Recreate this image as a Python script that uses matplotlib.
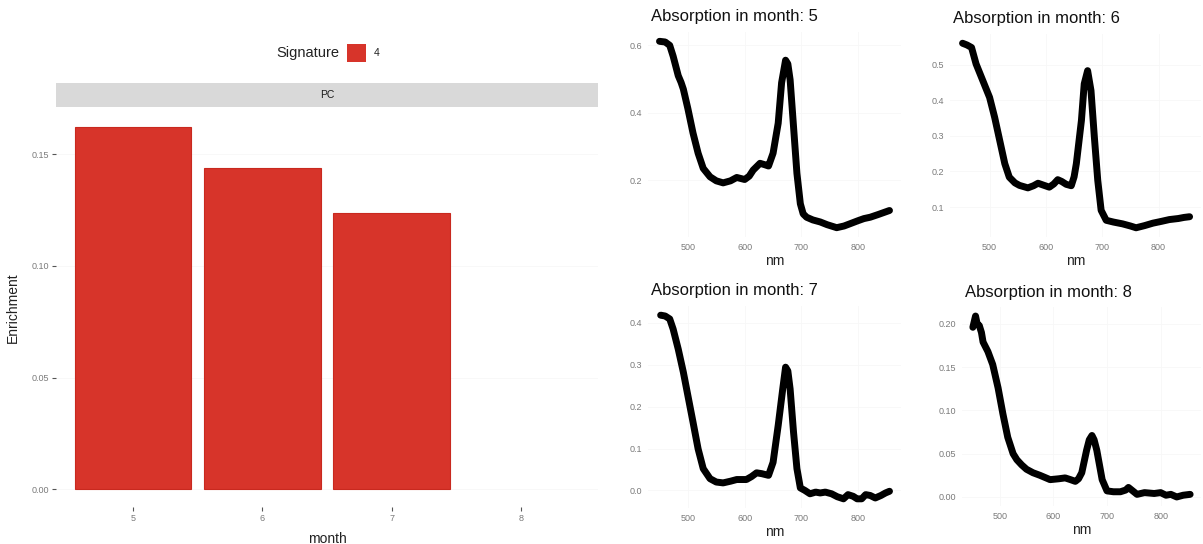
import matplotlib
matplotlib.use("Agg")
import matplotlib.pyplot as plt
from matplotlib.patches import Rectangle
import numpy as np

plt.rcParams['font.family'] = ['Liberation Sans', 'DejaVu Sans']

# ---- enrichment per month (signature 4, facet PC) ----
months = [5, 6, 7, 8]
enrichment = [0.1624, 0.1440, 0.1239, 0.0]
signature_label = "4"
facet_label = "PC"

# ---- absorption spectra per month ----
wl_m5 = [450, 460, 468, 474, 483, 488, 492, 500, 509, 518, 527, 539, 550, 562, 575,
         586, 600, 608, 615, 627, 635, 642, 650, 659, 665, 672, 676, 680, 686, 692,
         698, 703, 709, 720, 733, 745, 762, 775, 786, 800, 810, 821, 835, 845, 855]
abs_m5 = [0.612, 0.610, 0.600, 0.568, 0.510, 0.490, 0.470, 0.412, 0.340, 0.280, 0.235,
          0.210, 0.198, 0.192, 0.198, 0.208, 0.202, 0.212, 0.230, 0.250, 0.246, 0.242,
          0.280, 0.369, 0.489, 0.556, 0.545, 0.498, 0.359, 0.220, 0.130, 0.100, 0.090,
          0.082, 0.076, 0.068, 0.059, 0.064, 0.071, 0.080, 0.086, 0.090, 0.098, 0.104,
          0.110]

wl_m6 = [452, 460, 468, 476, 488, 500, 509, 518, 527, 535, 545, 553, 568, 578, 586,
         595, 606, 614, 621, 628, 636, 645, 650, 654, 663, 668, 674, 680, 686, 692,
         698, 707, 720, 736, 750, 760, 775, 790, 805, 819, 835, 845, 855]
abs_m6 = [0.560, 0.555, 0.548, 0.502, 0.455, 0.408, 0.352, 0.287, 0.222, 0.184, 0.168,
          0.161, 0.154, 0.160, 0.167, 0.162, 0.156, 0.165, 0.177, 0.172, 0.164, 0.160,
          0.185, 0.222, 0.343, 0.446, 0.483, 0.427, 0.296, 0.175, 0.091, 0.063, 0.058,
          0.053, 0.047, 0.042, 0.048, 0.055, 0.060, 0.065, 0.068, 0.071, 0.073]

wl_m7 = [452, 460, 468, 474, 483, 492, 500, 509, 518, 527, 539, 550, 562, 575, 586,
         603, 612, 621, 630, 642, 650, 659, 667, 672, 676, 680, 686, 692, 698, 706,
         715, 725, 733, 742, 753, 763, 774, 782, 791, 798, 806, 813, 821, 830, 840,
         848, 855]
abs_m7 = [0.418, 0.416, 0.409, 0.385, 0.337, 0.282, 0.226, 0.163, 0.099, 0.052, 0.028,
          0.020, 0.018, 0.022, 0.026, 0.026, 0.033, 0.042, 0.040, 0.036, 0.067, 0.155,
          0.242, 0.294, 0.285, 0.242, 0.139, 0.052, 0.006, 0.000, -0.008, -0.004,
          -0.006, -0.004, -0.008, -0.015, -0.020, -0.010, -0.014, -0.020, -0.020,
          -0.010, -0.012, -0.018, -0.012, -0.006, -0.002]

wl_m8 = [450, 455, 458, 462, 466, 469, 478, 487, 497, 506, 515, 525, 532, 541, 550,
         562, 575, 594, 610, 622, 632, 641, 647, 653, 662, 667, 672, 676, 681, 691,
         700, 712, 725, 735, 740, 744, 756, 770, 788, 800, 810, 819, 830, 842, 855]
abs_m8 = [0.196, 0.209, 0.200, 0.198, 0.190, 0.179, 0.168, 0.153, 0.126, 0.096, 0.069,
          0.050, 0.043, 0.037, 0.032, 0.028, 0.025, 0.020, 0.021, 0.022, 0.020, 0.018,
          0.021, 0.028, 0.054, 0.066, 0.071, 0.066, 0.054, 0.020, 0.007, 0.006, 0.006,
          0.008, 0.011, 0.009, 0.003, 0.005, 0.004, 0.005, 0.002, 0.003, 0.000, 0.002,
          0.003]

spectra_months = [5, 6, 7, 8]
spectra_wl = [wl_m5, wl_m6, wl_m7, wl_m8]
spectra_abs = [abs_m5, abs_m6, abs_m7, abs_m8]
spectra_yticks = [[0.2, 0.4, 0.6],
                  [0.1, 0.2, 0.3, 0.4, 0.5],
                  [0.0, 0.1, 0.2, 0.3, 0.4],
                  [0.00, 0.05, 0.10, 0.15, 0.20]]
spectra_yfmt = ["{:.1f}", "{:.1f}", "{:.1f}", "{:.2f}"]
nm_ticks = [500, 600, 700, 800]

# ---- figure layout (pixel based) ----
W, H = 1203, 544
fig = plt.figure(figsize=(W / 100, H / 100), dpi=100)
fig.patch.set_facecolor("white")


def px_rect(l, t, r, b):
    return [l / W, 1 - b / H, (r - l) / W, (b - t) / H]


BAR_RED = "#D7342A"
TICK_GREY = "#7A7A7A"
GRID = "#F7F7F7"

# ---- left: enrichment bars ----
axb = fig.add_axes(px_rect(55.6, 108.5, 598.4, 507.4))
edge_widths = [0.8 if v > 0 else 0.0 for v in enrichment]
axb.bar(months, enrichment, width=0.9, color=BAR_RED, edgecolor="#C8291F",
        linewidth=edge_widths, zorder=2)
ymax = max(enrichment)
axb.set_ylim(-0.05 * ymax, 1.05 * ymax)
axb.set_xlim(months[0] - 0.6, months[-1] + 0.6)
axb.set_xticks(months)
axb.set_xticklabels([str(m) for m in months])
axb.set_yticks([0.0, 0.05, 0.10, 0.15])
axb.set_yticklabels(["0.00", "0.05", "0.10", "0.15"])
for s in axb.spines.values():
    s.set_visible(False)
axb.tick_params(axis="both", labelsize=6.5, labelcolor=TICK_GREY, color="#555555",
                length=3, width=0.8, pad=2)
axb.yaxis.grid(True, color=GRID, linewidth=0.6, zorder=0)
axb.set_axisbelow(True)
axb.set_xlabel("month", fontsize=10, color="#222222", labelpad=6)
axb.set_ylabel("Enrichment", fontsize=10, color="#222222", labelpad=8)

# facet strip
fig.patches.append(Rectangle((55.6 / W, 1 - 107 / H), (598.4 - 55.6) / W, 24 / H,
                             transform=fig.transFigure, facecolor="#D9D9D9",
                             edgecolor="none"))
fig.text((55.6 + 598.4) / 2 / W, 1 - 95 / H, facet_label, ha="center", va="center",
         fontsize=7.5, color="#1A1A1A")

# legend
fig.text(276 / W, 1 - 53 / H, "Signature", ha="left", va="center", fontsize=10.5,
         color="#222222")
fig.patches.append(Rectangle((347 / W, 1 - 62 / H), 19 / W, 18 / H,
                             transform=fig.transFigure, facecolor=BAR_RED,
                             edgecolor="none"))
fig.text(374 / W, 1 - 53 / H, signature_label, ha="left", va="center", fontsize=7.5,
         color="#222222")

# ---- right: absorption spectra ----
panel_px = [(648, 32, 901, 237), (950, 34, 1201, 237),
            (648, 306, 901, 508), (962, 307, 1201, 506)]

for i in range(4):
    ax = fig.add_axes(px_rect(*panel_px[i]))
    ax.plot(spectra_wl[i], spectra_abs[i], color="black", linewidth=5.0,
            solid_joinstyle="round", solid_capstyle="round", zorder=3)
    ax.set_xlim(429.75, 875.25)
    ax.margins(y=0.05)
    ax.set_xticks(nm_ticks)
    ax.set_xticklabels([str(t) for t in nm_ticks])
    ax.set_yticks(spectra_yticks[i])
    ax.set_yticklabels([spectra_yfmt[i].format(v) for v in spectra_yticks[i]])
    for s in ax.spines.values():
        s.set_visible(False)
    ax.tick_params(axis="both", labelsize=6.5, labelcolor=TICK_GREY, length=0, pad=4)
    ax.grid(True, color=GRID, linewidth=0.6, zorder=0)
    ax.set_axisbelow(True)
    ax.set_xlabel("nm", fontsize=10, color="#222222", labelpad=2)
    l, t, r, b = panel_px[i]
    fig.text((l + 3) / W, 1 - (t - 15) / H, f"Absorption in month: {spectra_months[i]}",
             ha="left", va="center", fontsize=12, color="#111111")

fig.savefig("out.png", dpi=100, facecolor="white")
